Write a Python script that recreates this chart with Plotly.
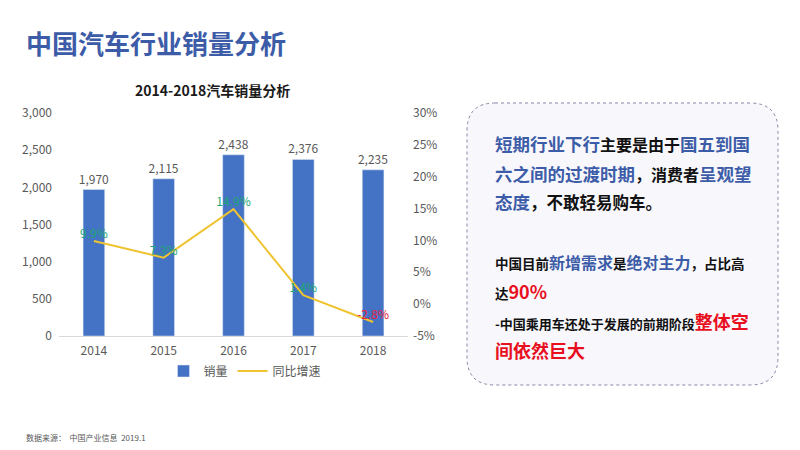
import plotly.graph_objects as go

years = ["2014", "2015", "2016", "2017", "2018"]
sales = [1970, 2115, 2438, 2376, 2235]
growth = [9.9, 7.3, 14.9, 1.4, -2.8]
growth_labels = ["9.9%", "7.3%", "14.9%", "1.4%", "-2.8%"]
growth_colors = ["#1BA874", "#1BA874", "#1BA874", "#1BA874", "#E8213A"]
left_ticks = [0, 500, 1000, 1500, 2000, 2500, 3000]
right_ticks = [-5, 0, 5, 10, 15, 20, 25, 30]
right_tick_text = ["-5%", "0%", "5%", "10%", "15%", "20%", "25%", "30%"]

FONT = "Noto Sans CJK SC"
BLUE = "#4472C4"
TITLE_BLUE = "#3D5CA8"
OFF = 8  # page body margin


def px(x):
    return (x - OFF) / 800


def py(y):
    return 1 - (y - OFF) / 450


fig = go.Figure()
fig.add_trace(go.Bar(
    x=years, y=sales, name="销量", marker_color=BLUE, width=0.31,
    text=[f"{v:,}" for v in sales], textposition="outside", constraintext="none",
    textfont=dict(color="#595959", size=12, family=FONT), cliponaxis=False,
))
fig.add_trace(go.Scatter(
    x=years, y=growth, name="同比增速", yaxis="y2", mode="lines+text",
    line=dict(color="#F0C330", width=2),
    text=growth_labels, textposition="top center",
    textfont=dict(color=growth_colors, size=12, family=FONT), cliponaxis=False,
))

fig.update_layout(
    width=800, height=450, margin=dict(l=0, r=0, t=0, b=0),
    paper_bgcolor="white", plot_bgcolor="white",
    font=dict(family=FONT, color="#595959", size=12),
    showlegend=True,
    legend=dict(orientation="h", x=px(245), xanchor="center", y=py(371), yanchor="middle",
                font=dict(size=12, color="#595959"), bgcolor="rgba(0,0,0,0)"),
    xaxis=dict(domain=[px(59), px(408)], showgrid=False, showline=True, linecolor="#D9D9D9",
               ticks="", automargin=False, ticklabelstandoff=4,
               tickfont=dict(size=12, color="#595959")),
    yaxis=dict(domain=[py(336), py(113)], range=[0, 3000], tickvals=left_ticks,
               tickformat=",", showgrid=False, zeroline=False, automargin=False,
               ticklabelstandoff=6, tickfont=dict(size=12, color="#595959")),
    yaxis2=dict(overlaying="y", side="right", anchor="free", position=px(412),
                range=[-5, 30], tickvals=right_ticks, ticktext=right_tick_text,
                showgrid=False, zeroline=False, automargin=False,
                tickfont=dict(size=12, color="#595959")),
)

# Titles
fig.add_annotation(x=px(24), y=py(42), xref="paper", yref="paper", xanchor="left", yanchor="middle",
                   text="<b>中国汽车行业销量分析</b>", showarrow=False,
                   font=dict(size=26, color=TITLE_BLUE, family=FONT))
fig.add_annotation(x=px(212), y=py(90), xref="paper", yref="paper", xanchor="center", yanchor="middle",
                   text="<b>2014-2018汽车销量分析</b>", showarrow=False,
                   font=dict(size=14, color="#1a1a1a", family=FONT))
fig.add_annotation(x=px(24), y=py(437), xref="paper", yref="paper", xanchor="left", yanchor="middle",
                   text="数据来源：  中国产业信息  2019.1", showarrow=False,
                   font=dict(size=8, color="#595959", family=FONT))

# Rounded dashed box
x0, x1, y0, y1, r = 467, 778, 103, 385, 28
pts = [
    ("M", (x0 + r, y0)), ("L", (x1 - r, y0)), ("Q", (x1, y0), (x1, y0 + r)),
    ("L", (x1, y1 - r)), ("Q", (x1, y1), (x1 - r, y1)), ("L", (x0 + r, y1)),
    ("Q", (x0, y1), (x0, y1 - r)), ("L", (x0, y0 + r)), ("Q", (x0, y0), (x0 + r, y0)),
]
path = ""
for item in pts:
    cmd = item[0]
    coords = " ".join(f"{px(a):.5f},{py(b):.5f}" for a, b in item[1:])
    path += f"{cmd} {coords} "
path += "Z"
fig.add_shape(type="path", path=path, xref="paper", yref="paper",
              line=dict(color="#8A86A6", width=1, dash="dot"), fillcolor="#F8F8FC", layer="below")

B = "#3D5CA8"
K = "#111111"
R = "#E8101E"


def s(t, c, size=None):
    st = f"color:{c}"
    if size:
        st += f";font-size:{size}px"
    return f"<span style='{st}'>{t}</span>"


lines = [
    (143, s("短期行业下行", B) + s("主要是由于", K, 16) + s("国五到国", B), 17.5),
    (173, s("六之间的过渡时期", B) + s("，消费者", K, 16) + s("呈观望", B), 17.5),
    (201, s("态度", B) + s("，不敢轻易购车。", K, 16.5), 17.5),
    (262, s("中国目前", K) + s("新增需求", B, 16) + s("是", K) + s("绝对主力", B, 16) + s("，占比高", K), 13.5),
    (291, s("达", K) + s("90%", R, 18), 13.5),
    (321, s("-中国乘用车还处于发展的前期阶段", K) + s("整体空", R, 18), 13),
    (350, s("间依然巨大", R, 18), 13),
]
for y, t, size in lines:
    fig.add_annotation(x=px(493), y=py(y), xref="paper", yref="paper", xanchor="left", yanchor="middle",
                       text=f"<b>{t}</b>", showarrow=False,
                       font=dict(size=size, color=K, family=FONT))

fig.write_html("out.html")
